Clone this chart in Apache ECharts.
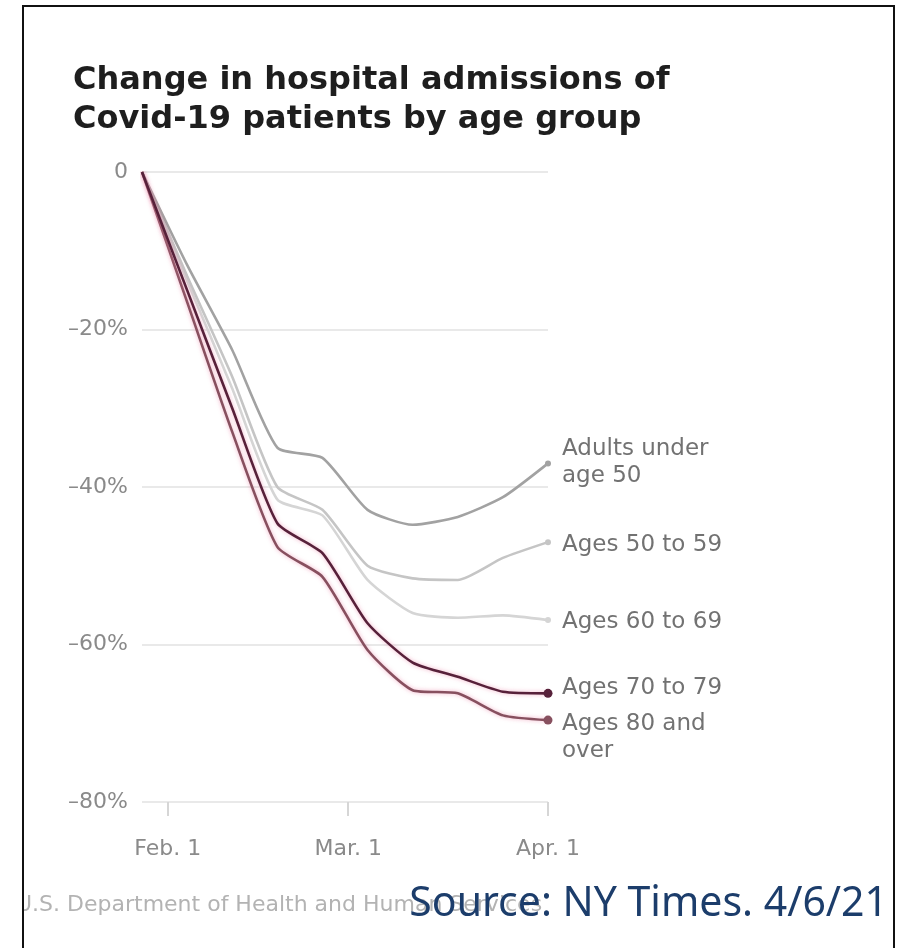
<!DOCTYPE html>
<html>
<head>
<meta charset="utf-8">
<script src="https://cdn.jsdelivr.net/npm/echarts@6/dist/echarts.min.js"></script>
<style>
  html, body { margin: 0; padding: 0; background: #fff; }
  #frame {
    position: absolute;
    left: 22px;
    top: 5px;
    width: 869px;
    height: 950px;
    border: 2px solid #111;
    border-bottom: none;
    overflow: hidden;
  }
  #hosp-chart {
    position: absolute;
    left: -24px;
    top: -7px;
    width: 903px;
    height: 948px;
  }
</style>
</head>
<body>
<div id="frame"><div id="hosp-chart"></div></div>
<script>
// weekly readings, Jan 28 -> Apr 1 2021 (change vs. first week, %)
const weekDates = ['2021-01-28', '2021-02-04', '2021-02-11', '2021-02-18', '2021-02-25',
  '2021-03-04', '2021-03-11', '2021-03-18', '2021-03-25', '2021-04-01'];

const under50 = [0, -11.8, -22.6, -35.0, -36.3, -42.9, -44.8, -43.8, -41.3, -37.0];
const ages50to59 = [0, -13.2, -26.0, -40.0, -42.9, -50.0, -51.6, -51.8, -49.0, -47.0];
const ages60to69 = [0, -13.8, -27.5, -41.6, -43.6, -51.8, -56.0, -56.6, -56.3, -56.9];
const ages70to79 = [0, -15.0, -30.0, -44.6, -48.4, -57.3, -62.3, -64.1, -66.0, -66.2];
const ages80plus = [0, -16.5, -33.0, -47.6, -51.4, -60.7, -65.8, -66.2, -69.0, -69.6];

const groupLabels = ['Adults under\nage 50', 'Ages 50 to 59', 'Ages 60 to 69', 'Ages 70 to 79', 'Ages 80 and\nover'];

const xTickDates = ['2021-02-01', '2021-03-01', '2021-04-01'];
const xTickLabels = ['Feb. 1', 'Mar. 1', 'Apr. 1'];
const yTicks = [-80, -60, -40, -20, 0];
const yTickLabels = ['–80%', '–60%', '–40%', '–20%', '0'];

// day of year (Jan 1 = 0), so the x axis stays a plain linear value axis
const dayOf = (s) => {
  const [y, m, d] = s.split('-').map(Number);
  return Math.round((Date.UTC(y, m - 1, d) - Date.UTC(y, 0, 1)) / 86400000);
};

const lastIdx = weekDates.length - 1;
const xTickDays = xTickDates.map(dayOf);
const labelFont = 'DejaVu Sans';

const makeSeries = (name, values, color, dotSize, labelOffset, z, glow) => ({
  name: name,
  type: 'line',
  data: weekDates.map((d, i) => [dayOf(d), values[i]]),
  smooth: 0.2,
  symbol: 'circle',
  symbolSize: (v, p) => (p.dataIndex === lastIdx ? dotSize : 0),
  lineStyle: {
    color: color,
    width: 2.6,
    shadowBlur: glow ? 4 : 0,
    shadowColor: glow ? 'rgba(236, 140, 172, 0.7)' : 'transparent',
  },
  itemStyle: { color: color },
  endLabel: {
    show: true,
    formatter: name,
    distance: 14,
    offset: labelOffset,
    color: '#727272',
    fontFamily: labelFont,
    fontSize: 23,
    lineHeight: 27,
  },
  emphasis: { disabled: true },
  z: z,
});

const chartEle = document.getElementById('hosp-chart');
const hospChart = echarts.init(chartEle);

hospChart.setOption({
  animation: false,
  backgroundColor: '#fff',
  title: [
    {
      text: 'Change in hospital admissions of\nCovid-19 patients by age group',
      left: 73,
      top: 61,
      padding: 0,
      textStyle: {
        fontFamily: labelFont,
        fontWeight: 'bold',
        fontSize: 32,
        lineHeight: 39,
        color: '#1e1e1e',
      },
    },
    {
      text: 'U.S. Department of Health and Human Services',
      left: 16,
      top: 894,
      padding: 0,
      textStyle: {
        fontFamily: labelFont,
        fontWeight: 'normal',
        fontSize: 22,
        color: '#b3b3b3',
      },
    },
    {
      text: 'Source: NY Times. 4/6/21',
      right: 15,
      top: 884,
      padding: 0,
      z: 10,
      textStyle: {
        fontFamily: 'Noto Sans',
        fontWeight: 'normal',
        fontSize: 41,
        color: '#1c3d6b',
      },
    },
  ],
  grid: {
    left: 142,
    right: 355,
    top: 172,
    bottom: 146,
  },
  tooltip: { show: false },
  xAxis: {
    type: 'value',
    min: dayOf(weekDates[0]),
    max: dayOf(weekDates[lastIdx]),
    axisLine: { show: false, onZero: false },
    splitLine: { show: false },
    axisTick: {
      show: true,
      customValues: xTickDays,
      length: 14,
      lineStyle: { color: '#d6d6d6', width: 2 },
    },
    axisLabel: {
      customValues: xTickDays,
      margin: 36,
      color: '#8a8a8a',
      fontFamily: labelFont,
      fontSize: 22,
      formatter: (val) => xTickLabels[xTickDays.indexOf(val)] || '',
    },
  },
  yAxis: {
    type: 'value',
    min: -80,
    max: 0,
    interval: 20,
    axisLine: { show: false },
    axisTick: { show: false },
    splitLine: { lineStyle: { color: '#e9e9e9', width: 2 } },
    axisLabel: {
      margin: 14,
      color: '#8a8a8a',
      fontFamily: labelFont,
      fontSize: 22,
      formatter: (val) => yTickLabels[yTicks.indexOf(val)],
    },
  },
  series: [
    makeSeries(groupLabels[0], under50, '#a2a2a2', 6, [0, -1], 3, false),
    makeSeries(groupLabels[1], ages50to59, '#c5c5c5', 6, [0, 3], 2, false),
    makeSeries(groupLabels[2], ages60to69, '#d5d5d5', 6, [0, 2], 1, false),
    makeSeries(groupLabels[3], ages70to79, '#57213a', 9, [0, -5], 5, true),
    makeSeries(groupLabels[4], ages80plus, '#87505f', 9, [0, 17], 4, true),
  ],
});

window.addEventListener('resize', function () {
  hospChart.resize();
});
</script>
</body>
</html>
